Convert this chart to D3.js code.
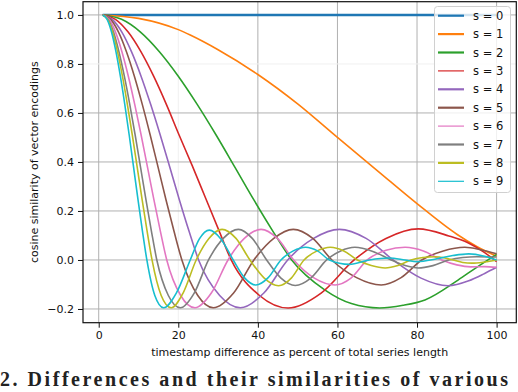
<!DOCTYPE html>
<html>
<head>
<meta charset="utf-8">
<script src="https://cdn.jsdelivr.net/npm/d3@7"></script>
<style>
  body { margin: 0; background: #fff; overflow: hidden; }
  svg { display: block; }
  text { font-family: "DejaVu Sans", sans-serif; fill: #111; }
  text.caption { font-family: "Liberation Serif", serif; font-weight: bold; fill: #222; }
</style>
</head>
<body>
<svg id="chart" width="518" height="392"></svg>
<script>
// tick values
const xTicks = [0, 20, 40, 60, 80, 100];
const yTicks = [-0.2, 0.0, 0.2, 0.4, 0.6, 0.8, 1.0];
const seriesLabels = ["s = 0", "s = 1", "s = 2", "s = 3", "s = 4", "s = 5", "s = 6", "s = 7", "s = 8", "s = 9"];

// [timestamp difference %, cosine similarity]
const s0 = [[1, 1], [100, 1]];
const s1 = [[1, 1], [10, 0.986], [20, 0.94], [23, 0.918], [30, 0.858], [40, 0.757], [50, 0.637], [60, 0.5], [70, 0.365], [80, 0.23], [90, 0.105], [95, 0.055], [100, 0.015]];
const s2 = [[1, 1], [5.75, 0.982], [10.5, 0.93], [15.25, 0.85], [20, 0.75], [24.75, 0.635], [29.5, 0.51], [34.25, 0.378], [39, 0.245], [43.75, 0.118], [48.5, 0], [56.8, -0.122], [63.5, -0.178], [70.6, -0.196], [76.5, -0.185], [82, -0.163], [90.3, -0.082], [95, -0.03], [100, 0.023]];
const s3 = [[1, 1], [4.2, 0.982], [7.4, 0.93], [10.6, 0.85], [13.8, 0.75], [17, 0.635], [20.2, 0.51], [23.5, 0.385], [26.8, 0.255], [30.1, 0.125], [33.3, 0], [40.4, -0.145], [47.6, -0.196], [55.9, -0.135], [64.2, 0], [72.2, 0.088], [80.3, 0.127], [88, 0.098], [92.8, 0.07], [97, 0.03], [100, -0.007]];
const s4 = [[1, 1], [3.41, 0.982], [5.82, 0.93], [8.23, 0.85], [10.64, 0.75], [13.05, 0.635], [15.46, 0.51], [17.87, 0.378], [20.28, 0.245], [22.69, 0.118], [25.1, 0], [30.4, -0.145], [35.6, -0.195], [41.5, -0.135], [47.5, 0], [54, 0.088], [60.5, 0.125], [67.2, 0.088], [74, 0], [81, -0.074], [87.8, -0.105], [93, -0.085], [97, -0.055], [100, -0.03]];
const s5 = [[1, 1], [2.99, 0.982], [4.98, 0.93], [6.97, 0.85], [8.96, 0.75], [10.95, 0.635], [12.94, 0.51], [14.93, 0.378], [16.92, 0.245], [18.91, 0.118], [20.9, 0], [24.9, -0.145], [28.8, -0.195], [33.9, -0.135], [39, 0], [44, 0.088], [48.9, 0.125], [53.8, 0.088], [58.6, 0], [64.8, -0.072], [71, -0.102], [76, -0.072], [81.2, 0], [86.6, 0.037], [92, 0.052], [96, 0.042], [100, 0.025]];
const s6 = [[1, 1], [2.61, 0.982], [4.22, 0.93], [5.83, 0.85], [7.44, 0.75], [9.05, 0.635], [10.66, 0.51], [12.27, 0.378], [13.88, 0.245], [15.49, 0.118], [17.1, 0], [20.6, -0.145], [24.2, -0.195], [28.3, -0.135], [32.5, 0], [36.6, 0.088], [40.8, 0.125], [44.9, 0.088], [49, 0], [54.2, -0.074], [59.4, -0.102], [63.4, -0.074], [67.5, 0], [72.2, 0.04], [77, 0.052], [81.6, 0.037], [86.2, 0], [90, -0.02], [93.5, -0.028], [97, -0.027], [100, -0.03]];
const s7 = [[1, 1], [2.36, 0.982], [3.72, 0.93], [5.08, 0.85], [6.44, 0.75], [7.8, 0.635], [9.16, 0.51], [10.52, 0.378], [11.88, 0.245], [13.24, 0.118], [14.6, 0], [17.5, -0.145], [20.5, -0.195], [24, -0.135], [27.6, 0], [31.3, 0.088], [35.1, 0.125], [38.6, 0.088], [42.2, 0], [45.8, -0.074], [49.4, -0.104], [53.3, -0.074], [57.3, 0], [60.8, 0.037], [64.4, 0.052], [68.9, 0.035], [73.5, 0], [77, -0.023], [80.3, -0.033], [84, -0.023], [88, 0], [91.5, 0.01], [95, 0.013], [100, 0.012]];
const s8 = [[1, 1], [2.24, 0.982], [3.48, 0.93], [4.72, 0.85], [5.96, 0.75], [7.2, 0.635], [8.44, 0.51], [9.68, 0.378], [10.92, 0.245], [12.16, 0.118], [13.4, 0], [15.7, -0.145], [18.2, -0.195], [21.2, -0.135], [24.5, 0], [27.7, 0.088], [31, 0.125], [34.5, 0.088], [38, 0], [41.6, -0.074], [45.2, -0.105], [48.4, -0.074], [51.6, 0], [54.9, 0.037], [58.2, 0.052], [61.6, 0.037], [65, 0], [68.5, -0.023], [72, -0.033], [75.2, -0.023], [78.5, 0], [81.5, 0.01], [84.5, 0.013], [87, 0.008], [89, 0], [91.5, -0.01], [93.8, -0.013], [97, -0.008], [100, 0]];
const s9 = [[1, 1], [2.11, 0.982], [3.22, 0.93], [4.33, 0.85], [5.44, 0.75], [6.55, 0.635], [7.66, 0.51], [8.77, 0.378], [9.88, 0.245], [10.99, 0.118], [12.1, 0], [14.1, -0.145], [16.3, -0.195], [19.5, -0.135], [23, 0], [25.3, 0.086], [27.8, 0.122], [30.7, 0.086], [33.8, 0], [36.6, -0.072], [39.5, -0.102], [42.6, -0.072], [45.8, 0], [48.9, 0.037], [52, 0.052], [55, 0.037], [58, 0], [63, -0.018], [68, 0], [73, 0.008], [77, 0], [80, -0.007], [85, 0.005], [89, 0.018], [93, 0.025], [97, 0.015], [100, 0]];

const series = [s0, s1, s2, s3, s4, s5, s6, s7, s8, s9];
const colors = d3.schemeCategory10;

const pLeft = 83, pRight = 516.3, pTop = 1.7, pBottom = 322.7;

const x = d3.scaleLinear().domain([-3.95, 104.95]).range([pLeft, pRight]);
const y = d3.scaleLinear().domain([-0.256, 1.054]).range([pBottom, pTop]);

const svg = d3.select("#chart");

svg.append("defs").append("clipPath").attr("id", "plot")
    .append("rect")
    .attr("x", pLeft).attr("y", pTop)
    .attr("width", pRight - pLeft).attr("height", pBottom - pTop);

// grid (the 20 and 0.8 lines are very faint in the picture)
svg.append("g")
    .selectAll("line")
    .data(xTicks)
    .join("line")
    .attr("x1", d => x(d)).attr("x2", d => x(d))
    .attr("y1", pTop).attr("y2", pBottom)
    .attr("stroke", d => d === 20 ? "#f0f0f0" : "#b0b0b0")
    .attr("stroke-width", 1);

svg.append("g")
    .selectAll("line")
    .data(yTicks)
    .join("line")
    .attr("x1", pLeft).attr("x2", pRight)
    .attr("y1", d => y(d)).attr("y2", d => y(d))
    .attr("stroke", d => d === 0.8 ? "#f0f0f0" : "#b0b0b0")
    .attr("stroke-width", 1);

// lines
const line = d3.line()
    .x(d => x(d[0]))
    .y(d => y(d[1]))
    .curve(d3.curveMonotoneX);

svg.append("g")
    .attr("clip-path", "url(#plot)")
    .selectAll("path")
    .data(series)
    .join("path")
    .attr("d", line)
    .attr("fill", "none")
    .attr("stroke", (d, i) => colors[i])
    .attr("stroke-width", (d, i) => i === 0 ? 2.6 : 1.6)
    .attr("stroke-linejoin", "round");

// axes
const xAxis = svg.append("g")
    .attr("transform", `translate(0,${pBottom})`)
    .call(d3.axisBottom(x).tickValues(xTicks).tickSize(5).tickPadding(4).tickFormat(d3.format("d")));

const yAxis = svg.append("g")
    .attr("transform", `translate(${pLeft},0)`)
    .call(d3.axisLeft(y).tickValues(yTicks).tickSize(5).tickPadding(4).tickFormat(d3.format(".1f")));

for (const ax of [xAxis, yAxis]) {
    ax.select(".domain").remove();
    ax.selectAll(".tick line").attr("stroke", "#111").attr("stroke-width", 1);
    ax.selectAll(".tick text")
        .attr("font-family", "DejaVu Sans, sans-serif")
        .attr("font-size", 11)
        .attr("fill", "#111");
}

// frame
svg.append("rect")
    .attr("x", pLeft).attr("y", pTop)
    .attr("width", pRight - pLeft).attr("height", pBottom - pTop)
    .attr("fill", "none")
    .attr("stroke", "#111")
    .attr("stroke-width", 1.2);

// axis titles
svg.append("text")
    .attr("x", (pLeft + pRight) / 2)
    .attr("y", 356)
    .attr("text-anchor", "middle")
    .attr("font-size", 11)
    .text("timestamp difference as percent of total series length");

svg.append("text")
    .attr("transform", `translate(38,${(pTop + pBottom) / 2}) rotate(-90)`)
    .attr("text-anchor", "middle")
    .attr("font-size", 11)
    .text("cosine similarity of vector encodings");

// legend
const legend = svg.append("g");
legend.append("rect")
    .attr("x", 434.5).attr("y", 6.5)
    .attr("width", 76).attr("height", 186)
    .attr("rx", 3)
    .attr("fill", "#fff").attr("fill-opacity", 0.8)
    .attr("stroke", "#d0d0d0");

const items = legend.selectAll("g.item")
    .data(seriesLabels)
    .join("g")
    .attr("class", "item")
    .attr("transform", (d, i) => `translate(0,${15.7 + i * 18.4})`);

items.append("line")
    .attr("x1", 438).attr("x2", 464)
    .attr("stroke", (d, i) => colors[i])
    .attr("stroke-width", (d, i) => (i === 3 || i === 6 || i === 9) ? 1.2 : 2.2);

items.append("text")
    .attr("x", 473)
    .attr("dy", "0.35em")
    .attr("font-size", 11.5)
    .text(d => d);

// caption under the figure
svg.append("text")
    .attr("class", "caption")
    .attr("x", 0)
    .attr("y", 386)
    .attr("font-size", 20)
    .attr("textLength", 508)
    .text("2. Differences and their similarities of various");
</script>
</body>
</html>
